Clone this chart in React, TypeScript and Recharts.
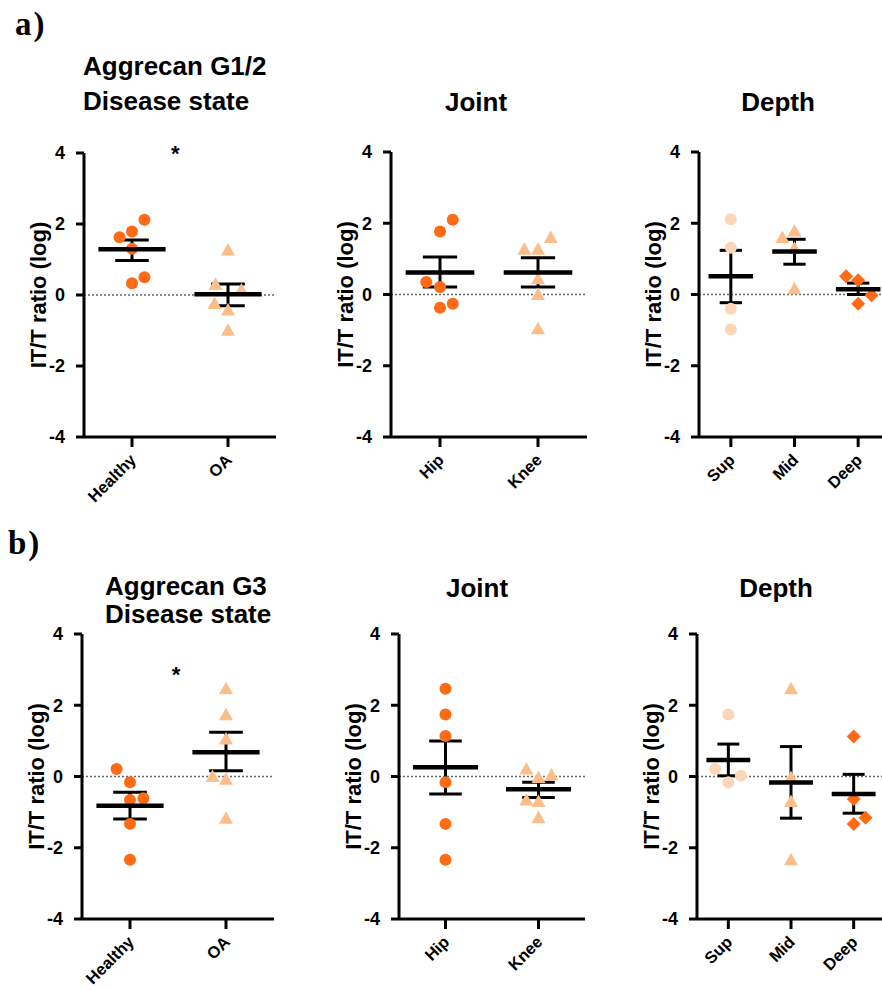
import React from 'react';
import { ScatterChart, Scatter, XAxis, YAxis, ErrorBar, ReferenceLine, ReferenceDot } from 'recharts';

const DARK = '#FF6A14';
const LIGHT = '#FBBE8B';
const PALE = '#FDD6B8';
const FONT = "'Liberation Sans', Arial, sans-serif";

const diseaseCategories = ['Healthy', 'OA'];
const jointCategories = ['Hip', 'Knee'];
const depthCategories = ['Sup', 'Mid', 'Deep'];
const yTicks = [-4, -2, 0, 2, 4];
const yAxisTitle = 'IT/T ratio (log)';

// ---- a) Aggrecan G1/2 ----
const aHealthyValues = [1.63, 1.79, 1.3, 0.33, 2.12, 0.5];
const aHealthyOffsets = [-0.13, 0, 0, 0, 0.13, 0.13];
const aOAValues = [1.27, 0.3, 0.14, -0.24, -0.42, -0.99];
const aOAOffsets = [0, -0.13, 0.14, -0.14, 0, 0];
const aDiseaseMeans = [1.29, 0.02];
const aDiseaseSemLow = [0.97, -0.3];
const aDiseaseSemHigh = [1.55, 0.31];
const aDiseaseStar = [0.95, 4.1];

const aHipValues = [2.1, 1.77, 0.35, 0.21, -0.37, -0.26];
const aHipOffsets = [0.13, 0, -0.14, 0, 0, 0.13];
const aKneeValues = [1.6, 1.27, 1.27, 0.44, 0.0, -0.96];
const aKneeOffsets = [0.13, -0.14, 0, 0, 0, 0];
const aJointMeans = [0.62, 0.62];
const aJointSemLow = [0.21, 0.21];
const aJointSemHigh = [1.05, 1.03];

const aSupValues = [2.11, 1.31, -0.4, -0.98];
const aSupOffsets = [0, 0, 0, 0];
const aMidValues = [1.6, 1.78, 1.3, 0.16];
const aMidOffsets = [-0.19, 0, 0, 0];
const aDeepValues = [0.51, 0.4, -0.02, -0.26];
const aDeepOffsets = [-0.19, 0, 0.21, 0];
const aDepthMeans = [0.51, 1.21, 0.15];
const aDepthSemLow = [-0.23, 0.85, 0.0];
const aDepthSemHigh = [1.24, 1.55, 0.32];

// ---- b) Aggrecan G3 ----
const bHealthyValues = [0.21, -0.16, -0.66, -0.61, -1.33, -2.34];
const bHealthyOffsets = [-0.14, 0, 0, 0.14, 0, 0];
const bOAValues = [2.46, 1.73, 1.05, 0.0, -0.08, -1.17];
const bOAOffsets = [0, 0, 0, -0.14, 0, 0];
const bDiseaseMeans = [-0.82, 0.68];
const bDiseaseSemLow = [-1.19, 0.16];
const bDiseaseSemHigh = [-0.44, 1.24];
const bDiseaseStar = [0.98, 3.0];

const bHipValues = [2.46, 1.74, 1.14, -0.16, -1.33, -2.34];
const bHipOffsets = [0, 0, 0, 0, 0, 0];
const bKneeValues = [0.21, -0.03, 0.04, -0.66, -0.7, -1.16];
const bKneeOffsets = [-0.13, 0, 0.14, -0.13, 0, 0];
const bJointMeans = [0.26, -0.36];
const bJointSemLow = [-0.49, -0.59];
const bJointSemHigh = [1.0, -0.16];

const bSupValues = [1.74, 0.21, 0.02, -0.16];
const bSupOffsets = [0, -0.21, 0.2, 0];
const bMidValues = [2.46, -0.03, -0.7, -2.34];
const bMidOffsets = [0, 0, 0, 0];
const bDeepValues = [1.12, -0.63, -1.16, -1.33];
const bDeepOffsets = [0, 0, 0.19, 0];
const bDepthMeans = [0.46, -0.17, -0.49];
const bDepthSemLow = [0.02, -1.17, -1.03];
const bDepthSemHigh = [0.91, 0.84, 0.06];

type ShapeKind = 'circle' | 'triangle' | 'diamond';
type Series = { values: number[]; offsets: number[]; cat: number; kind: ShapeKind; color: string };

const toPoints = (values: number[], offsets: number[], cat: number) =>
  values.map((v, i) => ({ x: cat + 0.5 + offsets[i], y: v }));

const makeShape = (kind: ShapeKind, color: string) => (p: any) => {
  const { cx, cy } = p;
  if (cx == null || cy == null) return <g />;
  if (kind === 'circle') return <circle cx={cx} cy={cy} r={6} fill={color} />;
  if (kind === 'triangle')
    return <polygon points={`${cx},${cy - 7} ${cx - 7},${cy + 5.5} ${cx + 7},${cy + 5.5}`} fill={color} />;
  return <polygon points={`${cx},${cy - 7} ${cx + 7},${cy} ${cx},${cy + 7} ${cx - 7},${cy}`} fill={color} />;
};

const CatTick = (props: any) => {
  const { x, y, payload, categories } = props;
  const label = categories[Math.floor(payload.value)];
  const ax = x + 5;
  const ay = y + 12;
  return (
    <text x={ax} y={ay} transform={`rotate(-45 ${ax} ${ay})`} textAnchor="end" fontSize={16.5} fontWeight="bold" fill="#000" fontFamily={FONT}>
      {label}
    </text>
  );
};

type PanelProps = {
  plotLeft: number; plotTop: number; plotW: number; plotH: number;
  categories: string[]; series: Series[];
  means: number[]; semLow: number[]; semHigh: number[];
  star?: number[];
};

function Panel({ plotLeft, plotTop, plotW, plotH, categories, series, means, semLow, semHigh, star }: PanelProps) {
  const ML = 10, YW = 70, MT = 30, MR = 10, MB = 4, XH = 70;
  const width = ML + YW + plotW + MR;
  const height = MT + plotH + MB + XH;
  const band = plotW / categories.length;
  const summary = means.map((m, i) => ({ x: i + 0.5, y: m, err: [m - semLow[i], semHigh[i] - m] }));
  const meanW = band * 0.7;
  const meanShape = (p: any) => {
    const { cx, cy } = p;
    if (cx == null || cy == null) return <g />;
    return <line x1={cx - meanW / 2} x2={cx + meanW / 2} y1={cy} y2={cy} stroke="#000" strokeWidth={4.5} />;
  };
  const starShape = (p: any) => (
    <text x={p.cx} y={p.cy + 12} textAnchor="middle" fontSize={22} fontWeight="bold" fill="#000" fontFamily={FONT}>*</text>
  );
  return (
    <div style={{ position: 'absolute', left: plotLeft - ML - YW, top: plotTop - MT, fontFamily: FONT }}>
      <ScatterChart width={width} height={height} margin={{ top: MT, right: MR, bottom: MB, left: ML }}>
        <XAxis
          type="number" dataKey="x" domain={[0, categories.length]}
          ticks={categories.map((_, i) => i + 0.5)} interval={0} height={XH}
          axisLine={{ stroke: '#000', strokeWidth: 3 }} tickLine={{ stroke: '#000', strokeWidth: 3 }}
          tickSize={10} allowDataOverflow
          tick={(p: any) => <CatTick {...p} categories={categories} />}
        />
        <YAxis
          type="number" dataKey="y" domain={[-4, 4]} ticks={yTicks} width={YW} allowDataOverflow
          axisLine={{ stroke: '#000', strokeWidth: 3 }} tickLine={{ stroke: '#000', strokeWidth: 3 }}
          tickSize={8} tickMargin={11}
          tick={{ fontSize: 18, fontWeight: 'bold', fill: '#000', fontFamily: FONT }}
          label={{ value: yAxisTitle, angle: -90, position: 'insideLeft', offset: 24,
            style: { textAnchor: 'middle', fontSize: 22, fontWeight: 'bold', fill: '#000', fontFamily: FONT } }}
        />
        <ReferenceLine y={0} stroke="#666" strokeDasharray="2 2" strokeWidth={1.5} />
        {series.map((s, i) => (
          <Scatter key={i} data={toPoints(s.values, s.offsets, s.cat)} shape={makeShape(s.kind, s.color)} isAnimationActive={false} />
        ))}
        <Scatter data={summary} shape={meanShape} isAnimationActive={false}>
          <ErrorBar dataKey="err" direction="y" width={band * 0.175} stroke="#000" strokeWidth={3} isAnimationActive={false} />
        </Scatter>
        {star && <ReferenceDot x={star[0]} y={star[1]} r={0} ifOverflow="visible" shape={starShape} />}
      </ScatterChart>
    </div>
  );
}

const titleStyle = (left: number, top: number): React.CSSProperties => ({
  position: 'absolute', left, top, fontFamily: FONT, fontWeight: 'bold', fontSize: 26,
  lineHeight: '26px', whiteSpace: 'nowrap', color: '#000',
});
const centeredTitle = (center: number, top: number): React.CSSProperties => ({
  ...titleStyle(center - 100, top), width: 200, textAlign: 'center',
});
const letterStyle = (left: number, top: number): React.CSSProperties => ({
  position: 'absolute', left, top, fontFamily: "'Liberation Serif', 'Times New Roman', serif",
  fontWeight: 'bold', fontSize: 33, lineHeight: '33px', letterSpacing: 2, color: '#000',
});

export default function App() {
  return (
    <div style={{ position: 'absolute', left: 0, top: 0, width: 882, height: 990, overflow: 'hidden', background: '#fff' }}>
      <div style={letterStyle(15, 8)}>a)</div>
      <div style={titleStyle(83, 53)}>Aggrecan G1/2</div>
      <div style={titleStyle(83, 88)}>Disease state</div>
      <div style={centeredTitle(476, 89)}>Joint</div>
      <div style={centeredTitle(778, 89)}>Depth</div>

      <div style={letterStyle(8, 527)}>b)</div>
      <div style={titleStyle(105, 573)}>Aggrecan G3</div>
      <div style={titleStyle(105, 601)}>Disease state</div>
      <div style={centeredTitle(477, 575)}>Joint</div>
      <div style={centeredTitle(776, 575)}>Depth</div>

      <Panel plotLeft={84} plotTop={153} plotW={192} plotH={284} categories={diseaseCategories}
        series={[
          { values: aHealthyValues, offsets: aHealthyOffsets, cat: 0, kind: 'circle', color: DARK },
          { values: aOAValues, offsets: aOAOffsets, cat: 1, kind: 'triangle', color: LIGHT },
        ]}
        means={aDiseaseMeans} semLow={aDiseaseSemLow} semHigh={aDiseaseSemHigh} star={aDiseaseStar} />
      <Panel plotLeft={391} plotTop={152} plotW={196} plotH={285} categories={jointCategories}
        series={[
          { values: aHipValues, offsets: aHipOffsets, cat: 0, kind: 'circle', color: DARK },
          { values: aKneeValues, offsets: aKneeOffsets, cat: 1, kind: 'triangle', color: LIGHT },
        ]}
        means={aJointMeans} semLow={aJointSemLow} semHigh={aJointSemHigh} />
      <Panel plotLeft={699} plotTop={152} plotW={191} plotH={285} categories={depthCategories}
        series={[
          { values: aSupValues, offsets: aSupOffsets, cat: 0, kind: 'circle', color: PALE },
          { values: aMidValues, offsets: aMidOffsets, cat: 1, kind: 'triangle', color: LIGHT },
          { values: aDeepValues, offsets: aDeepOffsets, cat: 2, kind: 'diamond', color: DARK },
        ]}
        means={aDepthMeans} semLow={aDepthSemLow} semHigh={aDepthSemHigh} />

      <Panel plotLeft={82} plotTop={634} plotW={192} plotH={285} categories={diseaseCategories}
        series={[
          { values: bHealthyValues, offsets: bHealthyOffsets, cat: 0, kind: 'circle', color: DARK },
          { values: bOAValues, offsets: bOAOffsets, cat: 1, kind: 'triangle', color: LIGHT },
        ]}
        means={bDiseaseMeans} semLow={bDiseaseSemLow} semHigh={bDiseaseSemHigh} star={bDiseaseStar} />
      <Panel plotLeft={399} plotTop={634} plotW={186} plotH={285} categories={jointCategories}
        series={[
          { values: bHipValues, offsets: bHipOffsets, cat: 0, kind: 'circle', color: DARK },
          { values: bKneeValues, offsets: bKneeOffsets, cat: 1, kind: 'triangle', color: LIGHT },
        ]}
        means={bJointMeans} semLow={bJointSemLow} semHigh={bJointSemHigh} />
      <Panel plotLeft={697} plotTop={634} plotW={188} plotH={285} categories={depthCategories}
        series={[
          { values: bSupValues, offsets: bSupOffsets, cat: 0, kind: 'circle', color: PALE },
          { values: bMidValues, offsets: bMidOffsets, cat: 1, kind: 'triangle', color: LIGHT },
          { values: bDeepValues, offsets: bDeepOffsets, cat: 2, kind: 'diamond', color: DARK },
        ]}
        means={bDepthMeans} semLow={bDepthSemLow} semHigh={bDepthSemHigh} />
    </div>
  );
}
